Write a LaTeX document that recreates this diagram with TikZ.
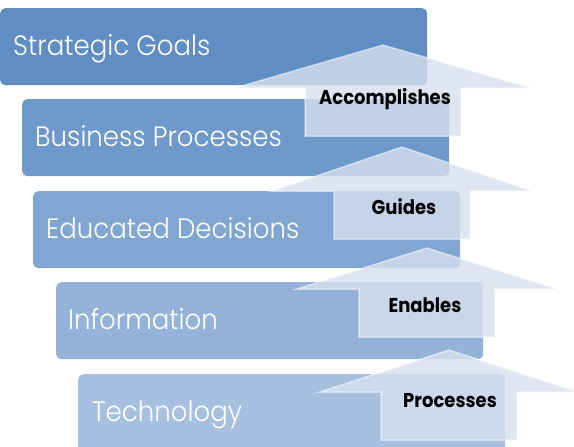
\documentclass[tikz,border=0pt]{standalone}
\usepackage{fontspec}
\newfontfamily\boxfont{Poppins Light}[FakeStretch=0.93]
\newfontfamily\labfont{Poppins Bold}[FakeStretch=0.9]
\definecolor{c1}{RGB}{95,141,196}
\definecolor{c2}{RGB}{111,153,203}
\definecolor{c3}{RGB}{129,166,210}
\definecolor{c4}{RGB}{149,179,216}
\definecolor{c5}{RGB}{168,192,224}
\definecolor{arrowc}{RGB}{216,224,238}
\newcommand\myarrow[6]{%
  \draw[arrowshape] (#1,#2) -- ({#1+#4},#3) -- ({#1+#5},#3) -- ({#1+#5},#6)
    -- ({#1-#5},#6) -- ({#1-#5},#3) -- ({#1-#4},#3) -- cycle;}
\begin{document}
\begin{tikzpicture}[x=1pt,y=-1pt,
  stepbox/.style={draw=none, rounded corners=5pt, minimum height=77pt,
    minimum width=427pt, inner sep=0pt, anchor=north west},
  boxtext/.style={anchor=base west, text=white, inner sep=0pt,
    font=\boxfont\fontsize{28}{30}\selectfont},
  arrowshape/.style={fill=arrowc, fill opacity=0.8, draw=white,
    draw opacity=0.5, line width=1.5pt, line join=miter},
  lab/.style={anchor=base, inner sep=0pt, text=black,
    font=\labfont\fontsize{20}{22}\selectfont}]
\useasboundingbox (0,0) rectangle (574,447);
\node[stepbox, fill=c1] (b1) at (0,8) {};
\node[stepbox, fill=c2] (b2) at (22,99) {};
\node[stepbox, fill=c3] (b3) at (33,191) {};
\node[stepbox, fill=c4] (b4) at (56,282) {};
\node[stepbox, fill=c5] (b5) at (78,374) {};
\node[boxtext] (t1) at (13,55) {Strategic Goals};
\node[boxtext] (t2) at (35,146) {Business Processes};
\node[boxtext] (t3) at (46,238) {Educated Decisions};
\node[boxtext] (t4) at (68,329) {Information};
\node[boxtext] (t5) at (92,421) {Technology};
\myarrow{383}{45}{88}{148}{78}{136}
\myarrow{402}{147}{191}{130}{68}{239}
\myarrow{427}{248}{289}{130}{68}{337}
\myarrow{449}{350}{392}{129}{68}{440}
\node[lab] (l1) at (385,104) {Accomplishes};
\node[lab] (l2) at (404,214) {Guides};
\node[lab] (l3) at (425,312) {Enables};
\node[lab] (l4) at (450,407) {Processes};
\end{tikzpicture}
\end{document}
